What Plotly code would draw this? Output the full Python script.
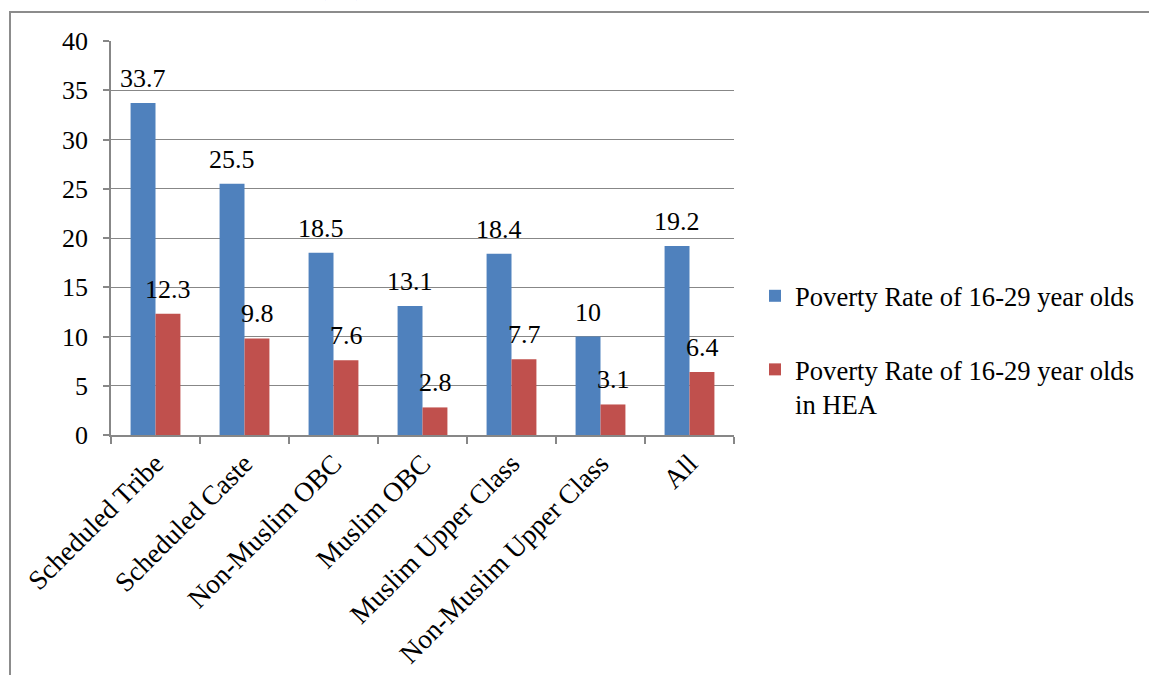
import plotly.graph_objects as go

# Social groups on the category axis
groups = [
    "Scheduled Tribe",
    "Scheduled Caste",
    "Non-Muslim OBC",
    "Muslim OBC",
    "Muslim Upper Class",
    "Non-Muslim Upper Class",
    "All",
]

# Poverty rates (%) for each group
rate_all = [33.7, 25.5, 18.5, 13.1, 18.4, 10, 19.2]
rate_hea = [12.3, 9.8, 7.6, 2.8, 7.7, 3.1, 6.4]

series_names = [
    "Poverty Rate of 16-29 year olds",
    "Poverty Rate of 16-29 year olds<br>in HEA",
]
series_colors = ["#4F81BD", "#C0504D"]

y_ticks = [0, 5, 10, 15, 20, 25, 30, 35, 40]

title_text = "Figure 4: Poverty Rates (%) of 16-29 year olds by Social Group, 2011-12"

FONT = "Liberation Serif, Times New Roman, serif"
FS = 26
GRAY = "#878787"

# Page size and plot-area box (pixels)
W, H = 1149, 675
L, R, T, B = 111, 734, 41, 435
BAR_PX = 25  # width of one bar in pixels (follows from bargap below)


def px_x(p):
    return (p - L) / (R - L)


def px_y(p):
    return (B - p) / (B - T)


fig = go.Figure()
for i, (vals, name, color) in enumerate(zip([rate_all, rate_hea], series_names, series_colors)):
    fig.add_trace(go.Bar(
        x=groups, y=vals, name=name,
        marker=dict(color=color, line=dict(width=0)),
        legendgroup=f"g{i}",
    ))

# Value labels above each bar
annotations = []
for i, vals in enumerate([rate_all, rate_hea]):
    shift = (i - 0.5) * BAR_PX
    for g, v in zip(groups, vals):
        annotations.append(dict(
            x=g, y=v, xref="x", yref="y", text=f"{v:g}",
            xanchor="center", yanchor="bottom", xshift=shift, yshift=8,
            showarrow=False, font=dict(family=FONT, size=FS, color="black"),
        ))

# Figure caption running off the top edge
annotations.append(dict(
    text=f"<b>{title_text}</b>", xref="paper", yref="paper",
    x=px_x(14), y=px_y(3), xanchor="left", yanchor="bottom",
    showarrow=False, font=dict(family=FONT, size=29, color="black"),
))

fig.update_layout(
    width=W, height=H,
    margin=dict(l=L, r=W - R, t=T, b=H - B, autoexpand=False),
    paper_bgcolor="white", plot_bgcolor="white",
    font=dict(family=FONT, size=FS, color="black"),
    barmode="group", bargap=0.44, bargroupgap=0,
    showlegend=True,
    legend=dict(
        x=px_x(755), y=px_y(272), xanchor="left", yanchor="top",
        font=dict(family=FONT, size=26.6, color="black"),
        traceorder="grouped", tracegroupgap=36, valign="top",
        bgcolor="rgba(0,0,0,0)",
    ),
    xaxis=dict(
        type="category", showline=True, linecolor=GRAY, linewidth=1.5,
        ticks="outside", ticklen=7, tickcolor=GRAY, tickwidth=1.5,
        tickson="boundaries", tickangle=-45, showgrid=False,
        tickfont=dict(family=FONT, size=27.3, color="black"),
    ),
    yaxis=dict(
        range=[0, 40], tickvals=y_ticks, showline=True, linecolor=GRAY,
        linewidth=1.5, ticks="outside", ticklen=6, tickcolor=GRAY,
        tickwidth=1.5, showgrid=True, gridcolor=GRAY, gridwidth=1,
        zeroline=False, ticklabelstandoff=10,
        tickfont=dict(family=FONT, size=FS, color="black"),
    ),
    shapes=[dict(
        type="rect", xref="paper", yref="paper",
        x0=px_x(10), x1=px_x(1400), y0=px_y(900), y1=px_y(12),
        line=dict(color="#8c8c8c", width=2), fillcolor="rgba(0,0,0,0)",
        layer="below",
    )],
    annotations=annotations,
)

fig.write_html("out.html")
